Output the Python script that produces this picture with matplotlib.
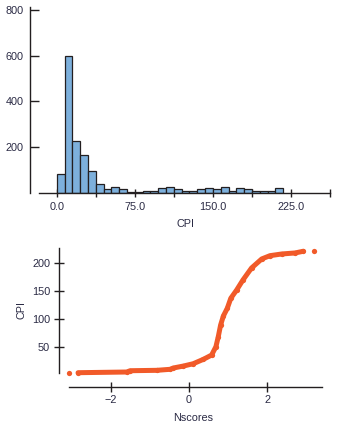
import matplotlib
matplotlib.use("Agg")
import matplotlib.pyplot as plt
from matplotlib.ticker import FixedLocator, NullFormatter

plt.rcParams['font.family'] = ['Liberation Sans', 'DejaVu Sans']

# Histogram of CPI (bin width 7.5)
bin_width = 7.5
bin_starts = [i * bin_width for i in range(29)]
counts = [80, 600, 228, 167, 97, 40, 18, 23, 18, 4, 4, 8, 8, 22, 27, 18,
          9, 9, 18, 22, 18, 27, 9, 22, 18, 9, 9, 9, 22]
hist_xticks = [0.0, 75.0, 150.0, 225.0]
hist_xminor = [37.5, 112.5, 187.5, 262.5]
hist_yticks = [200, 400, 600, 800]

# Normal probability plot: normal scores vs CPI
nscores = [-3.06, -2.83, -1.59, -1.50, -0.82, -0.48, -0.40, -0.14, 0.11, 0.37,
           0.58, 0.69, 0.75, 0.81, 0.88, 0.98, 1.07, 1.22, 1.38, 1.60,
           1.86, 2.07, 2.37, 2.71, 2.92, 3.20]
cpi = [5.0, 5.0, 6.2, 8.5, 9.2, 11.0, 13.3, 16.8, 20.9, 28.7,
       36.3, 51.1, 68.8, 89.5, 105.5, 119.1, 136.9, 151.6, 169.3, 190.6,
       206.6, 212.4, 215.4, 217.2, 220.2, 221.3]
qq_xticks = [-2, 0, 2]
qq_yticks = [50, 100, 150, 200]

W, H = 340, 432
ink = '#231f20'
txt = '#2a2a44'
bar_color = '#7db0dc'
dot_color = '#f15a29'
fs = 7.8

fig = plt.figure(figsize=(W / 100, H / 100), dpi=100)

def px_axes(left, top, right, bottom):
    return fig.add_axes([left / W, 1 - bottom / H, (right - left) / W, (bottom - top) / H])

# ---- histogram ----
ax1 = px_axes(30.3, 7.0, 332.6, 192.7)
ax1.bar(bin_starts, counts, width=bin_width, align='edge',
        color=bar_color, edgecolor=ink, linewidth=0.9, zorder=2)
ax1.set_xlim(-25.4, 265)
ax1.set_ylim(0, 813)
for s in ['top', 'right']:
    ax1.spines[s].set_visible(False)
for s in ['left', 'bottom']:
    ax1.spines[s].set_color(ink)
    ax1.spines[s].set_linewidth(1.0)
ax1.spines['bottom'].set_bounds(-17, 262.5)
ax1.spines['bottom'].set_zorder(3)
ax1.set_yticks(hist_yticks)
ax1.set_yticklabels([str(v) for v in hist_yticks])
ax1.set_xticks(hist_xticks)
ax1.set_xticklabels([f"{v:.1f}" for v in hist_xticks])
ax1.xaxis.set_minor_locator(FixedLocator(hist_xminor))
ax1.xaxis.set_minor_formatter(NullFormatter())
ax1.tick_params(axis='y', direction='in', length=6.7, width=1.0, color=ink,
                labelsize=fs, labelcolor=txt, pad=5)
ax1.tick_params(axis='x', which='both', direction='inout', length=6.0, width=1.0,
                color=ink, labelsize=fs, labelcolor=txt, pad=3.5)
ax1.set_xlabel('CPI', fontsize=fs, color=txt)
ax1.xaxis.set_label_coords(0.512, -0.1685)
ax1.xaxis.label.set_va('center')

# ---- normal probability plot ----
ax2 = px_axes(58.5, 248.0, 324.0, 386.8)
ax2.plot(nscores[1:-1], cpi[1:-1], color=dot_color, linewidth=3.6,
         solid_capstyle='round', solid_joinstyle='round', zorder=2)
ax2.plot(nscores, cpi, 'o', color=dot_color, markersize=3.8,
         markeredgewidth=0, zorder=3)
ax2.set_xlim(-3.33, 3.45)
ax2.set_ylim(-20, 226)
for s in ['top', 'right']:
    ax2.spines[s].set_visible(False)
for s in ['left', 'bottom']:
    ax2.spines[s].set_color(ink)
    ax2.spines[s].set_linewidth(1.0)
ax2.spines['left'].set_bounds(4, 226)
ax2.spines['bottom'].set_bounds(-3.06, 3.39)
ax2.set_xticks(qq_xticks)
ax2.set_xticklabels(['\u22122', '0', '2'])
ax2.set_yticks(qq_yticks)
ax2.set_yticklabels([str(v) for v in qq_yticks])
ax2.tick_params(axis='both', direction='inout', length=7.0, width=1.0, color=ink,
                labelsize=fs, labelcolor=txt, pad=2.5)
ax2.set_xlabel('Nscores', fontsize=fs, color=txt)
ax2.xaxis.set_label_coords(0.508, -0.227)
ax2.xaxis.label.set_va('center')
ax2.set_ylabel('CPI', fontsize=fs, color=txt)
ax2.yaxis.set_label_coords(-0.1386, 0.553)
ax2.yaxis.label.set_va('center')

fig.savefig('out.png', dpi=100)
